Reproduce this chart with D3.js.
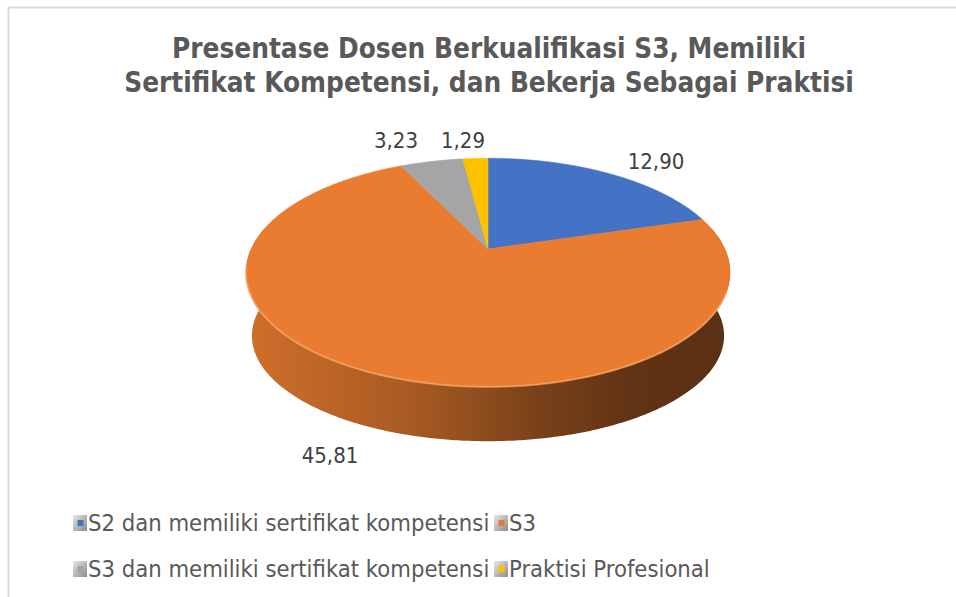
<!DOCTYPE html>
<html>
  <head>
    <meta charset="utf-8" />
    <title>pie-3d</title>
    <style>
      html,
      body {
        padding: 0;
        margin: 0;
        background: #fff;
      }
      svg {
        display: block;
      }
    </style>
  </head>
  <body>
    <svg width="956" height="597"></svg>

    <script src="https://cdn.jsdelivr.net/npm/d3@7"></script>
    <script>
      // data
      const categories = [
        'S2 dan memiliki sertifikat kompetensi',
        'S3',
        'S3 dan memiliki sertifikat kompetensi',
        'Praktisi Profesional',
      ];
      const values = [12.9, 45.81, 3.23, 1.29];
      const labelText = ['12,90', '45,81', '3,23', '1,29'];
      const colors = ['#4472C4', '#E97C30', '#A5A5A5', '#FFC000'];
    </script>
    <script>
      const svg = d3.select('svg');
      const font = '"DejaVu Sans Condensed", "DejaVu Sans", sans-serif';

      // chart border (only top/left visible)
      svg
        .append('rect')
        .attr('x', 8.5)
        .attr('y', 7.5)
        .attr('width', 1000)
        .attr('height', 700)
        .attr('fill', 'none')
        .attr('stroke', '#d9d9d9')
        .attr('stroke-width', 2);

      // title
      const title = svg
        .append('text')
        .attr('text-anchor', 'middle')
        .attr('font-family', font)
        .attr('font-weight', 'bold')
        .attr('font-size', 27.7)
        .attr('fill', '#595959');
      title.append('tspan').attr('x', 489).attr('y', 58).text('Presentase Dosen Berkualifikasi S3, Memiliki');
      title.append('tspan').attr('x', 489).attr('y', 92).text('Sertifikat Kompetensi, dan Bekerja Sebagai Praktisi');

      // perspective projection of the pie disk (top and bottom faces)
      const faces = {
        top: { cx: 488, cy: 249, A: 236.8, B: 109.4 },
        bottom: { cx: 488, cy: 314, A: 231, B: 101 },
      };
      const k = 0.206;
      function proj(a, f) {
        const p = faces[f];
        const u = Math.sin(a);
        const w = -Math.cos(a);
        const d = 1 - k * w;
        return [p.cx + (p.A * u) / d, p.cy + (p.B * w) / d];
      }
      function arcPts(a0, a1, f) {
        const n = Math.max(2, Math.ceil(Math.abs(a1 - a0) / 0.01));
        return d3.range(n + 1).map((i) => proj(a0 + ((a1 - a0) * i) / n, f));
      }

      const pie = d3
        .pie()
        .sort(null)
        .value((d) => d);
      const arcs = pie(values);

      const defs = svg.append('defs');
      const grad = defs
        .append('linearGradient')
        .attr('id', 'wall')
        .attr('gradientUnits', 'userSpaceOnUse')
        .attr('x1', 246)
        .attr('x2', 730)
        .attr('y1', 0)
        .attr('y2', 0);
      [
        [0, '#d06f2b'],
        [0.35, '#a65a22'],
        [0.6, '#7a4119'],
        [0.8, '#613315'],
        [1, '#5b3013'],
      ].forEach(([o, c]) => grad.append('stop').attr('offset', o).attr('stop-color', c));

      const line = d3.line();
      const pieG = svg.append('g');

      // outer walls, only the front half (pi/2 .. 3pi/2) can be seen
      arcs.forEach((d, i) => {
        const a0 = Math.max(d.startAngle, Math.PI / 2 - 0.2);
        const a1 = Math.min(d.endAngle, (3 * Math.PI) / 2 + 0.2);
        if (a1 <= a0) return;
        const pts = arcPts(a0, a1, 'top').concat(arcPts(a1, a0, 'bottom'));
        pieG
          .append('path')
          .attr('d', line(pts) + 'Z')
          .attr('fill', i === 1 ? 'url(#wall)' : d3.color(colors[i]).darker(1.2));
      });

      // top faces
      arcs.forEach((d, i) => {
        const pts = [[faces.top.cx, faces.top.cy]].concat(arcPts(d.startAngle, d.endAngle, 'top'));
        pieG
          .append('path')
          .attr('d', line(pts) + 'Z')
          .attr('fill', colors[i])
          .attr('stroke', colors[i])
          .attr('stroke-width', 0.6);
      });

      // light bevel along the front rim
      pieG
        .append('path')
        .attr('d', line(arcPts(Math.PI * 0.62, Math.PI * 1.45, 'top')))
        .attr('fill', 'none')
        .attr('stroke', '#f7a66a')
        .attr('stroke-width', 2)
        .attr('stroke-opacity', 0.7);

      // data labels
      const labelPos = [
        [656, 169],
        [330, 463],
        [396, 148],
        [463, 148],
      ];
      svg
        .append('g')
        .selectAll('text')
        .data(labelText)
        .join('text')
        .attr('x', (d, i) => labelPos[i][0])
        .attr('y', (d, i) => labelPos[i][1])
        .attr('text-anchor', 'middle')
        .attr('font-family', font)
        .attr('font-size', 22)
        .attr('fill', '#404040')
        .text((d) => d);

      // legend
      const legendPos = [
        [73, 531],
        [494, 531],
        [73, 577],
        [494, 577],
      ];
      const mGrad = defs
        .append('linearGradient')
        .attr('id', 'mk')
        .attr('x1', 0)
        .attr('y1', 0)
        .attr('x2', 1)
        .attr('y2', 1);
      mGrad.append('stop').attr('offset', 0).attr('stop-color', '#e6e6e6');
      mGrad.append('stop').attr('offset', 1).attr('stop-color', '#8c8c8c');

      const item = svg
        .append('g')
        .selectAll('g')
        .data(categories)
        .join('g')
        .attr('transform', (d, i) => `translate(${legendPos[i][0]},${legendPos[i][1]})`);
      item
        .append('rect')
        .attr('x', 0)
        .attr('y', -16)
        .attr('width', 14)
        .attr('height', 16)
        .attr('fill', 'url(#mk)');
      item
        .append('rect')
        .attr('x', 4.5)
        .attr('y', -11)
        .attr('width', 6)
        .attr('height', 6)
        .attr('fill', (d, i) => colors[i]);
      item
        .append('text')
        .attr('x', 15)
        .attr('y', 0)
        .attr('font-family', font)
        .attr('font-size', 23.6)
        .attr('fill', '#595959')
        .text((d) => d);
    </script>
  </body>
</html>
